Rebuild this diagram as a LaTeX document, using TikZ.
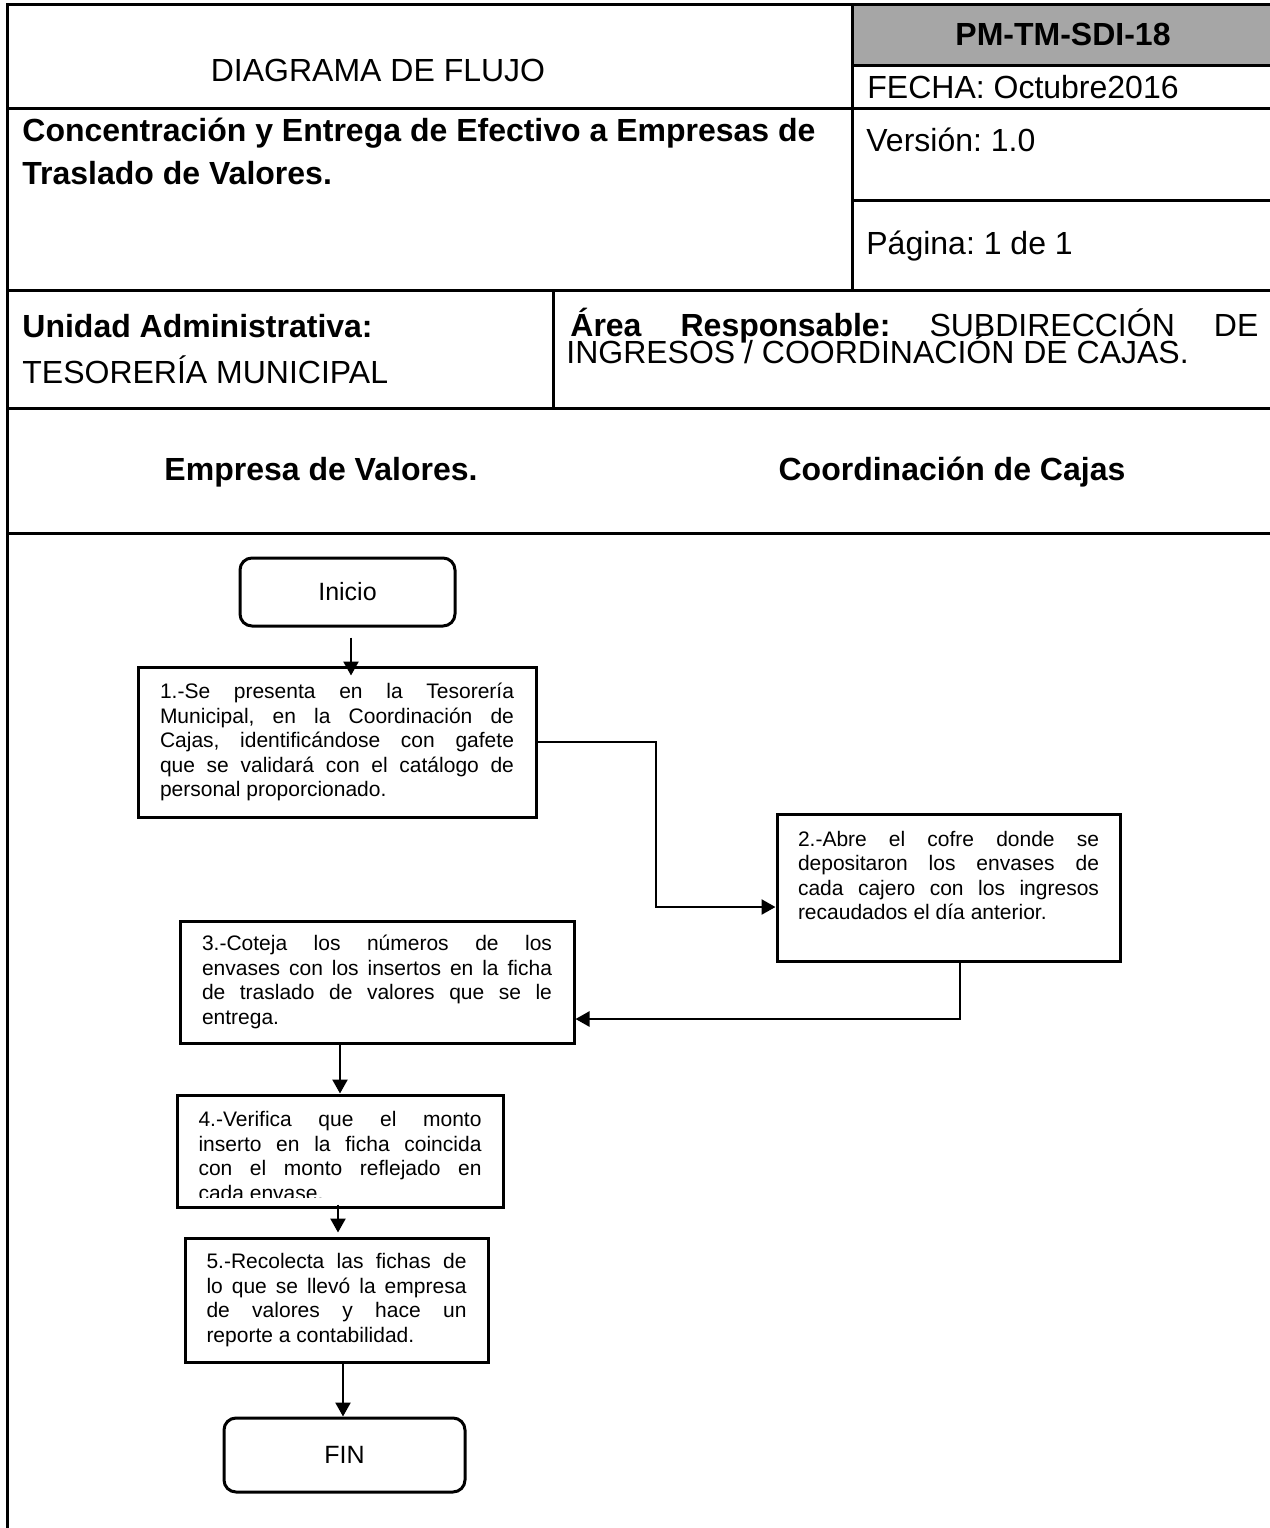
\documentclass[tikz,border=0pt]{standalone}
\usepackage{fontspec}
\setmainfont{Liberation Sans}
\usetikzlibrary{arrows.meta}
\hyphenpenalty=10000
\exhyphenpenalty=10000
\frenchspacing
\definecolor{grisceld}{RGB}{166,166,166}

\tikzset{
  marco/.style={line width=1.5pt},
  titulo/.style={inner sep=0pt, font=\fontsize{16}{19}\selectfont},
  paso/.style={draw, line width=1.5pt, inner sep=0pt, align=justify,
    font=\fontsize{10.5}{12.25}\selectfont},
  terminal/.style={draw, line width=1.5pt, rounded corners=6pt,
    font=\fontsize{12.5}{15}\selectfont},
  flecha/.style={line width=1.2pt, -{Triangle[length=7pt,width=7.5pt]}}
}

\begin{document}
\begin{tikzpicture}[x=0.5pt,y=-0.5pt]
  \useasboundingbox (0,0) rectangle (1270,1528);
  % encabezado
  \fill[grisceld] (852,4) rectangle (1270,65);
  \draw[marco] (7,1528) -- (7,4) -- (1270,4);
  \draw[marco] (852,4) -- (852,290);
  \draw[marco] (852,65) -- (1270,65);
  \draw[marco] (7,108) -- (1270,108);
  \draw[marco] (852,200) -- (1270,200);
  \draw[marco] (7,290) -- (1270,290);
  \draw[marco] (553,290) -- (553,408);
  \draw[marco] (7,408) -- (1270,408);
  \draw[marco] (7,533) -- (1270,533);

  \node[titulo] (diag) at (378,70) {DIAGRAMA DE FLUJO};
  \node[titulo, font=\fontsize{16}{19}\selectfont\bfseries] (clave) at (1063,34) {PM-TM-SDI-18};
  \node[titulo, anchor=west] (fecha) at (867,87) {FECHA: Octubre2016};
  \node[titulo, anchor=west, font=\fontsize{16}{19}\selectfont\bfseries] (proc1) at (22,133) {Concentración y Entrega de Efectivo a Empresas de};
  \node[titulo, anchor=west, font=\fontsize{16}{19}\selectfont\bfseries] (proc2) at (22,173) {Traslado de Valores.};
  \node[titulo, anchor=west] (version) at (866,140) {Versión: 1.0};
  \node[titulo, anchor=west] (pagina) at (866,246) {Página: 1 de 1};
  \node[titulo, anchor=west, font=\fontsize{16}{19}\selectfont\bfseries] (unidad) at (22,326) {Unidad Administrativa:};
  \node[titulo, anchor=west] (tesoreria) at (22,370) {TESORERÍA MUNICIPAL};
  \node[titulo, anchor=west] (area1) at (570,326) {\makebox[344pt][s]{\textbf{Área Responsable:} SUBDIRECCIÓN DE}};
  \node[titulo, anchor=west] (area2) at (566,350) {INGRESOS / COORDINACIÓN DE CAJAS.};
  \node[titulo, font=\fontsize{16}{19}\selectfont\bfseries] (carril1) at (321,472) {Empresa de Valores.};
  \node[titulo, font=\fontsize{16}{19}\selectfont\bfseries] (carril2) at (952,472) {Coordinación de Cajas};

  % diagrama
  \node[terminal, minimum width=107.5pt, minimum height=34pt] (ini) at (347.5,592) {Inicio};
  \node[paso, minimum width=199pt, minimum height=75pt, text width=177pt] (p1) at (337,742)
    {1.-Se presenta en la Tesorería\linebreak Municipal, en la Coordinación de\linebreak Cajas, identificándose con gafete\linebreak que se validará con el catálogo de\linebreak personal proporcionado.};
  \node[paso, minimum width=171.5pt, minimum height=73.5pt, text width=150.5pt] (p2) at (948.5,887.5)
    {2.-Abre el cofre donde se\linebreak depositaron los envases de\linebreak cada cajero con los ingresos\linebreak recaudados el día anterior.\par\mbox{}};
  \node[paso, minimum width=197pt, minimum height=61pt, text width=175pt] (p3) at (377,982)
    {3.-Coteja los números de los\linebreak envases con los insertos en la ficha\linebreak de traslado de valores que se le\linebreak entrega.};
  \node[paso, minimum width=163pt, minimum height=56pt] (p4) at (340,1151) {};
  \begin{scope}
    \clip (p4.north west) rectangle (p4.east |- 0,1197);
    \node[paso, draw=none, text width=141.5pt] (p4t) at (340,1156)
      {4.-Verifica que el monto\linebreak inserto en la ficha coincida\linebreak con el monto reflejado en\linebreak cada envase.};
  \end{scope}
  \node[paso, minimum width=151.5pt, minimum height=62pt, text width=130pt] (p5) at (336.5,1300)
    {5.-Recolecta las fichas de\linebreak lo que se llevó la empresa\linebreak de valores y hace un\linebreak reporte a contabilidad.};
  \node[terminal, minimum width=120.5pt, minimum height=37pt] (fin) at (344.5,1455) {FIN};

  \coordinate (c12) at (656,907);
  \coordinate (c23) at (960,1019);
  \draw[flecha] ([shift={(1.75pt,-5pt)}]ini.south) -- ([shift={(1.75pt,-5pt)}]ini.south |- p1.north);
  \draw[flecha] (p1.east) -| (c12) -- (c12 -| p2.west);
  \draw[flecha] (c23 |- p2.south) -- (c23) -- (c23 -| p3.east);
  \draw[flecha] (p4.north |- p3.south) -- (p4.north);
  \draw[flecha] ([shift={(-1pt,2pt)}]p4.south) -- ([shift={(-1pt,2pt)}]p4.south |- p5.north);
  \draw[flecha] ([xshift=3.25pt]p5.south) -- ([xshift=3.25pt]p5.south |- fin.north);
\end{tikzpicture}
\end{document}
